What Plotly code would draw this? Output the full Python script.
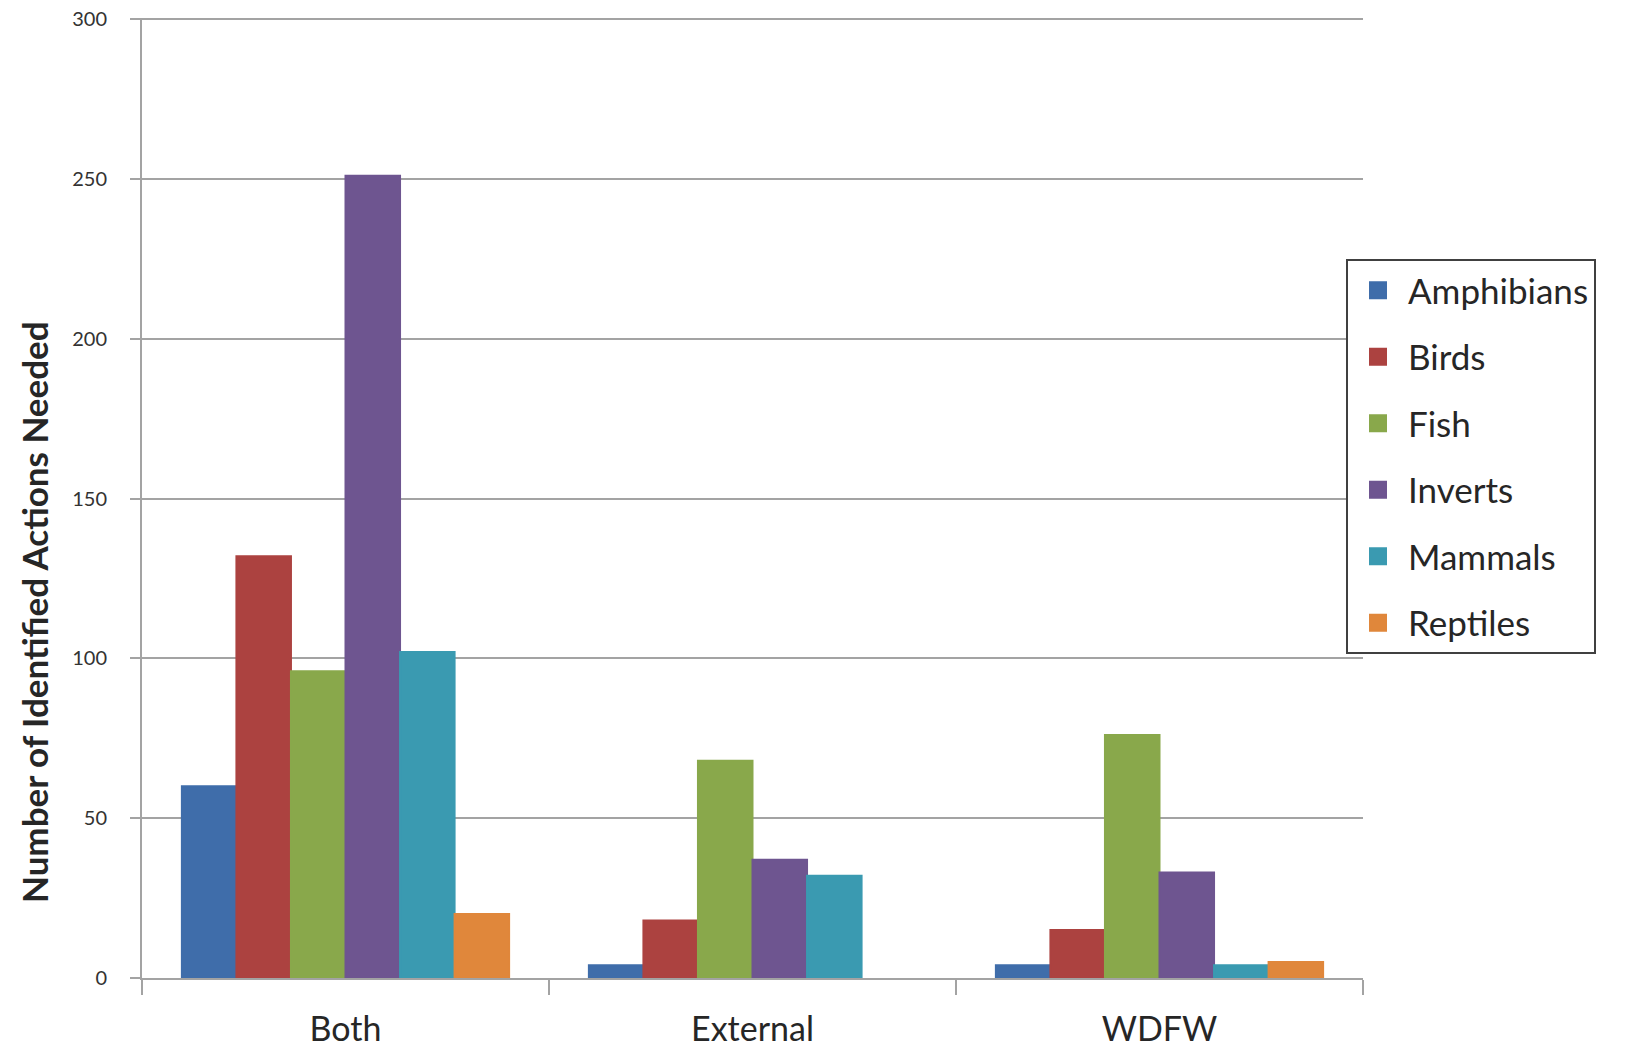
import plotly.graph_objects as go

# Who carries out the identified actions, split by species group
categories = ["Both", "External", "WDFW"]

amphibians = [60, 4, 4]
birds = [132, 18, 15]
fish = [96, 68, 76]
inverts = [251, 37, 33]
mammals = [102, 32, 4]
reptiles = [20, None, 5]   # no external reptile actions

series_names = ["Amphibians", "Birds", "Fish", "Inverts", "Mammals", "Reptiles"]
series_values = [amphibians, birds, fish, inverts, mammals, reptiles]
series_colors = ["#3F6DAA", "#AC4240", "#89A84B", "#6E5590", "#3A9AB1", "#E0873B"]

y_ticks = [0, 50, 100, 150, 200, 250, 300]

FONT = "Lato, 'Open Sans', sans-serif"
GRID = "#A3A3A3"

fig = go.Figure()
for name, vals, col in zip(series_names, series_values, series_colors):
    fig.add_trace(go.Bar(
        name=name,
        x=categories,
        y=vals,
        marker=dict(color=col, line=dict(color=col, width=2)),
        legendgroup=name,
        showlegend=False,
    ))
    # legend-only entry with a larger square swatch
    fig.add_trace(go.Scatter(
        name=name,
        x=[None], y=[None],
        mode="markers",
        marker=dict(symbol="square", size=16, color=col, line=dict(color=col, width=2)),
        legendgroup=name,
        hoverinfo="skip",
    ))

L, R, T, B = 142, 264, 18, 72
W, H = 1627, 1050
plot_w = W - L - R
plot_h = H - T - B

fig.update_layout(
    width=W, height=H,
    margin=dict(l=L, r=R, t=T, b=B, pad=0),
    paper_bgcolor="white",
    plot_bgcolor="white",
    barmode="group",
    bargap=0.196,
    bargroupgap=0,
    font=dict(family=FONT, color="#262626"),
    showlegend=True,
    legend=dict(
        x=(1346 - L) / plot_w,
        y=(H - B - 259) / plot_h,
        xanchor="left", yanchor="top",
        bgcolor="white",
        bordercolor="#404040",
        borderwidth=2,
        font=dict(family=FONT, size=35, color="#262626"),
        tracegroupgap=18,
        itemwidth=50,
    ),
    xaxis=dict(
        range=[-0.5, 2.5],
        automargin=False,
        showline=True, linecolor=GRID, linewidth=2,
        ticks="outside", tickson="boundaries", ticklen=15, tickwidth=2, tickcolor=GRID,
        tickfont=dict(family=FONT, size=34, color="#262626"),
        ticklabelstandoff=20,
        showgrid=False,
    ),
    yaxis=dict(
        range=[0, 300.4],
        automargin=False,
        tickvals=y_ticks,
        showline=True, linecolor=GRID, linewidth=2,
        ticks="outside", ticklen=10, tickwidth=2, tickcolor=GRID,
        showgrid=True, gridcolor=GRID, gridwidth=2,
        zeroline=False,
        tickfont=dict(family=FONT, size=20, color="#333333"),
        ticklabelstandoff=19,
    ),
    annotations=[dict(
        text="<b>Number of Identified Actions Needed</b>",
        xref="paper", yref="paper",
        x=(34 - L) / plot_w, y=(H - B - 612) / plot_h,
        xanchor="center", yanchor="middle",
        textangle=-90, showarrow=False,
        font=dict(family=FONT, size=35, color="#262626"),
    )],
)

fig.write_html("out.html")
